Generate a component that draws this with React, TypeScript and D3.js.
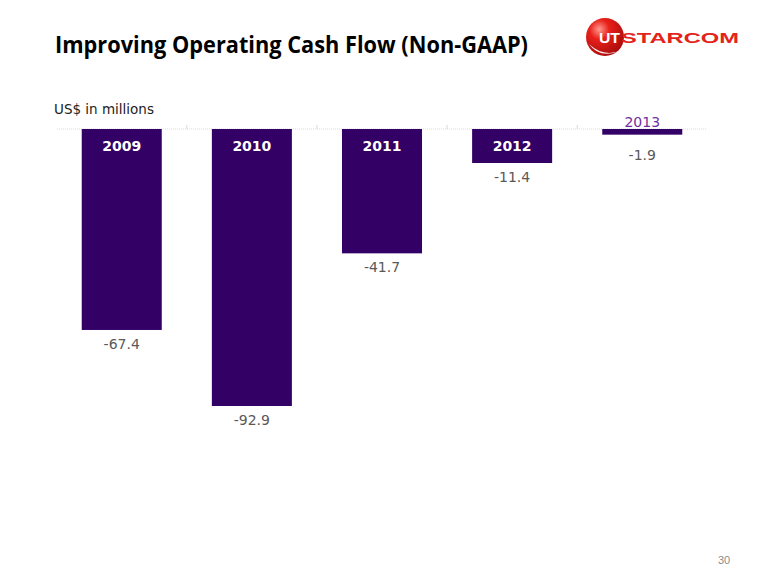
import React from "react";
import * as d3 from "d3";

const years = ["2009", "2010", "2011", "2012", "2013"];
const values = [-67.4, -92.9, -41.7, -11.4, -1.9];
const title = "Improving Operating Cash Flow (Non-GAAP)";
const unitLabel = "US$ in millions";
const pageNumber = "30";

const W = 780;
const H = 585;
const BAR_COLOR = "#330066";

export default function App() {
  const x = d3.scaleBand<string>().domain(years).range([57, 707]).paddingInner(0.385).paddingOuter(0.19);
  const y = d3.scaleLinear().domain([0, -92.9]).range([129, 406]);
  const step = x.step();
  const tickXs = years.slice(1).map((yr) => (x(yr) as number) - (step - x.bandwidth()) / 2);
  const fmt = (v: number) => d3.format(".1f")(v).replace("\u2212", "-");

  return (
    <svg
      width={W}
      height={H}
      style={{ position: "absolute", left: 0, top: 0, background: "#fff" }}
      fontFamily="'DejaVu Sans', Verdana, sans-serif"
    >
      <rect width={W} height={H} fill="#fff" />
      {/* Title */}
      <text x={55} y={53} fontFamily="'Open Sans', sans-serif" fontWeight={700} fontSize={24} fill="#000" textLength={473} lengthAdjust="spacingAndGlyphs">
        {title}
      </text>
      {/* Logo */}
      <defs>
        <radialGradient id="ball" cx="0.35" cy="0.3" r="0.75">
          <stop offset="0" stopColor="#ff9a90" />
          <stop offset="0.35" stopColor="#e8201a" />
          <stop offset="1" stopColor="#a80c0c" />
        </radialGradient>
      </defs>
      <circle cx={605} cy={37} r={19} fill="url(#ball)" />
      <path d="M589,44 Q600,60 622,50 Q604,58 589,44 Z" fill="#fff" opacity={0.9} />
      <text x={599} y={43} fontFamily="'Liberation Sans', Arial, sans-serif" fontWeight={700} fontSize={15} fill="#fff" textLength={21} lengthAdjust="spacingAndGlyphs">UT</text>
      <text x={621} y={43} fontFamily="'Liberation Sans', Arial, sans-serif" fontWeight={700} fontSize={15} fill="#e3241b" textLength={118} lengthAdjust="spacingAndGlyphs">STARCOM</text>
      {/* Unit label */}
      <text x={54} y={114} fontSize={13.5} fill="#222">{unitLabel}</text>
      {/* Baseline */}
      <line x1={57} x2={707} y1={y(0)} y2={y(0)} stroke="#d9d9d9" strokeWidth={1} strokeDasharray="1 1" />
      {tickXs.map((tx, i) => (
        <line key={i} x1={tx} x2={tx} y1={y(0)} y2={y(0) - 4} stroke="#d9d9d9" />
      ))}
      {/* Bars */}
      {years.map((yr, i) => {
        const v = values[i];
        const bx = x(yr) as number;
        const bw = x.bandwidth();
        const top = y(0);
        const bottom = y(v);
        const cx = bx + bw / 2;
        const small = bottom - top < 30;
        const labelY = Math.max(bottom + 19, top + 31);
        return (
          <g key={yr}>
            <rect x={bx} y={top} width={bw} height={bottom - top} fill={BAR_COLOR} />
            {small ? (
              <text x={cx} y={top - 2} textAnchor="middle" fontSize={14} fill="#7030a0">{yr}</text>
            ) : (
              <text x={cx} y={top + 22} textAnchor="middle" fontSize={14} fontWeight={700} fill="#fff">{yr}</text>
            )}
            <text x={cx} y={labelY} textAnchor="middle" fontSize={14} fill="#595959">
              {fmt(v)}
            </text>
          </g>
        );
      })}
      {/* Page number */}
      <text x={718} y={564} fontFamily="'Liberation Sans', Arial, sans-serif" fontSize={11} fill="#8c8c8c">{pageNumber}</text>
    </svg>
  );
}
